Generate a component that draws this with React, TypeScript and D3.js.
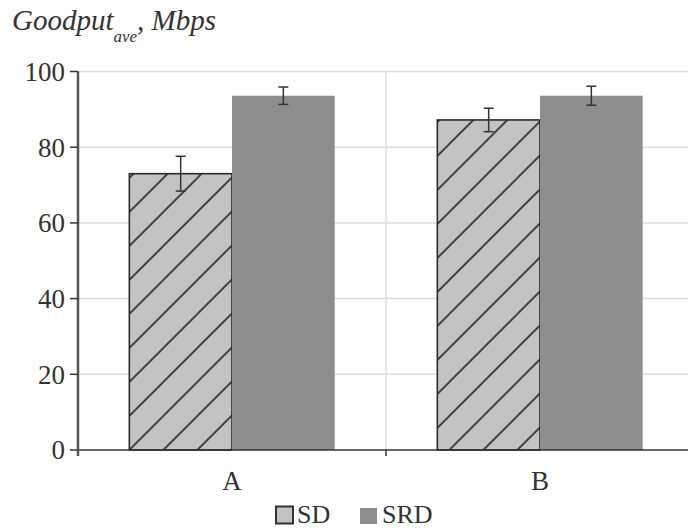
import React, { useRef, useEffect } from "react";
import * as d3 from "d3";

const categories = ["A", "B"];
const seriesNames = ["SD", "SRD"];
const sdValues = [73, 87.2];
const srdValues = [93.6, 93.6];
const sdErrors = [4.6, 3.1];
const srdErrors = [2.3, 2.5];
const yTicks = [0, 20, 40, 60, 80, 100];

const width = 688;
const height = 530;
const FONT = "Liberation Serif, DejaVu Serif, serif";

const App = () => {
  const svgRef = useRef<SVGSVGElement>(null);

  useEffect(() => {
    const svg = d3.select(svgRef.current);
    svg.selectAll("*").remove();

    const left = 78;
    const right = 694;
    const top = 71.5;
    const bottom = 450;

    const x = d3.scaleBand().domain(categories).range([left, right]);
    const xInner = d3.scaleBand().domain(seriesNames).range([0, x.bandwidth()]).paddingOuter(0.5);
    const y = d3.scaleLinear().domain([0, 100]).range([bottom, top]);

    const defs = svg.append("defs");
    categories.forEach((c, i) => {
      const p = defs.append("pattern")
        .attr("id", "hatch" + i)
        .attr("patternUnits", "userSpaceOnUse")
        .attr("width", 34)
        .attr("height", 34)
        .attr("x", x(c)! + xInner("SD")! + (i === 0 ? 0 : 12))
        .attr("y", bottom);
      p.append("rect").attr("width", 34).attr("height", 34).attr("fill", "#c3c3c3");
      p.append("path")
        .attr("d", "M0,34 L34,0 M-4,4 L4,-4 M30,38 L38,30")
        .attr("stroke", "#2a2a2a")
        .attr("stroke-width", 1.6);
    });

    // grid
    svg.append("g")
      .selectAll("line")
      .data(yTicks.filter(t => t > 0))
      .enter()
      .append("line")
      .attr("x1", left)
      .attr("x2", right)
      .attr("y1", d => y(d))
      .attr("y2", d => y(d))
      .attr("stroke", "#dcdcdc")
      .attr("stroke-width", 1.5);

    svg.append("line")
      .attr("x1", x("B")!)
      .attr("x2", x("B")!)
      .attr("y1", top)
      .attr("y2", bottom)
      .attr("stroke", "#e0e0e0")
      .attr("stroke-width", 1.5);

    // bars
    const g = svg.append("g");
    categories.forEach((c, i) => {
      const bx = x(c)!;
      const w = xInner.bandwidth();
      g.append("rect")
        .attr("x", bx + xInner("SD")!)
        .attr("y", y(sdValues[i]))
        .attr("width", w)
        .attr("height", bottom - y(sdValues[i]))
        .attr("fill", `url(#hatch${i})`)
        .attr("stroke", "#2a2a2a")
        .attr("stroke-width", 1.6);
      g.append("rect")
        .attr("x", bx + xInner("SRD")!)
        .attr("y", y(srdValues[i]))
        .attr("width", w)
        .attr("height", bottom - y(srdValues[i]))
        .attr("fill", "#8d8d8d");

      const errs = [
        { cx: bx + xInner("SD")! + w / 2, v: sdValues[i], e: sdErrors[i] },
        { cx: bx + xInner("SRD")! + w / 2, v: srdValues[i], e: srdErrors[i] },
      ];
      errs.forEach(d => {
        const eg = g.append("g").attr("stroke", "#333").attr("stroke-width", 1.5);
        eg.append("line").attr("x1", d.cx).attr("x2", d.cx).attr("y1", y(d.v + d.e)).attr("y2", y(d.v - d.e));
        [d.v + d.e, d.v - d.e].forEach(v => {
          eg.append("line").attr("x1", d.cx - 5).attr("x2", d.cx + 5).attr("y1", y(v)).attr("y2", y(v));
        });
      });
    });

    // x axis
    svg.append("line")
      .attr("x1", left)
      .attr("x2", right)
      .attr("y1", bottom)
      .attr("y2", bottom)
      .attr("stroke", "#333")
      .attr("stroke-width", 1.5);
    svg.append("line")
      .attr("x1", x("B")!)
      .attr("x2", x("B")!)
      .attr("y1", bottom)
      .attr("y2", bottom + 6)
      .attr("stroke", "#333")
      .attr("stroke-width", 1.5);
    svg.append("g")
      .selectAll("text")
      .data(categories)
      .enter()
      .append("text")
      .attr("x", d => x(d)! + x.bandwidth() / 2)
      .attr("y", 490)
      .attr("text-anchor", "middle")
      .attr("font-family", FONT)
      .attr("font-size", 27)
      .attr("fill", "#333")
      .text(d => d);

    // y axis
    svg.append("line")
      .attr("x1", left)
      .attr("x2", left)
      .attr("y1", top)
      .attr("y2", bottom + 6)
      .attr("stroke", "#555")
      .attr("stroke-width", 2.5);
    const yt = svg.append("g")
      .selectAll("g")
      .data(yTicks)
      .enter()
      .append("g");
    yt.append("line")
      .attr("x1", left - 8)
      .attr("x2", left)
      .attr("y1", d => y(d))
      .attr("y2", d => y(d))
      .attr("stroke", "#333")
      .attr("stroke-width", 1.5);
    yt.append("text")
      .attr("x", left - 13)
      .attr("y", d => y(d))
      .attr("dy", "0.35em")
      .attr("text-anchor", "end")
      .attr("font-family", FONT)
      .attr("font-size", 27)
      .attr("fill", "#333")
      .text(d => d);

    // title
    const title = svg.append("text")
      .attr("x", 12)
      .attr("y", 30)
      .attr("font-family", FONT)
      .attr("font-style", "italic")
      .attr("font-size", 29)
      .attr("fill", "#333");
    title.append("tspan").text("Goodput");
    title.append("tspan").attr("font-size", 17).attr("dy", 12).text("ave");
    title.append("tspan").attr("dy", -12).text(", Mbps");

    // legend
    const lg = svg.append("g").attr("font-family", FONT).attr("font-size", 26).attr("fill", "#333");
    lg.append("rect").attr("x", 276).attr("y", 506.5).attr("width", 17).attr("height", 17)
      .attr("fill", "#c3c3c3").attr("stroke", "#333").attr("stroke-width", 2);
    lg.append("text").attr("x", 297).attr("y", 523).text(seriesNames[0]);
    lg.append("rect").attr("x", 360).attr("y", 508).attr("width", 17).attr("height", 16).attr("fill", "#8d8d8d");
    lg.append("text").attr("x", 382).attr("y", 523).text(seriesNames[1]);
  }, []);

  return (
    <svg
      ref={svgRef}
      width={width}
      height={height}
      style={{ position: "absolute", left: 0, top: 0, background: "#fff" }}
    />
  );
};

export default App;
